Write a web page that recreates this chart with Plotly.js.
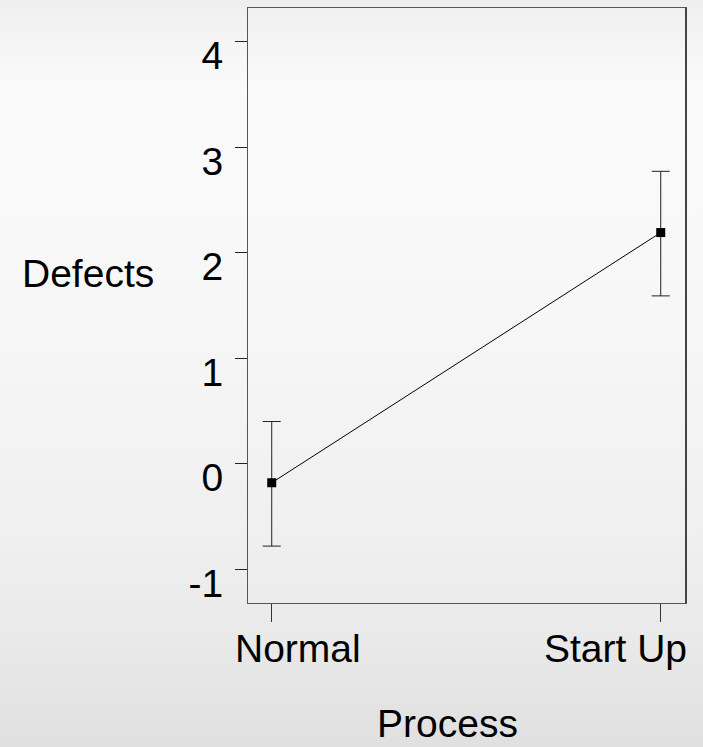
<!DOCTYPE html>
<html>
<head>
<meta charset="utf-8">
<script src="https://cdn.plot.ly/plotly-3.0.1.min.js"></script>
<style>
  html, body { margin: 0; padding: 0; }
  body {
    width: 703px; height: 747px; overflow: hidden;
    background: linear-gradient(to bottom, #eeeeee 0px, #f1f1f1 14px, #fafafa 90px, #f7f7f7 300px, #f0f0f0 520px, #e9e9e9 640px, #e0e0e0 747px);
  }
  #chart { width: 703px; height: 747px; }
</style>
</head>
<body>
<div id="chart"></div>
<script>
// ---- data ----
const categories = ["Normal", "Start Up"];
const means = [-0.18, 2.19];
const upperCI = [0.40, 2.77];
const lowerCI = [-0.78, 1.59];
const yTickVals = [-1, 0, 1, 2, 3, 4];
const yTickText = ["-1", "0", "1", "2", "3", "4"];
const xTitle = "Process";
const yTitle = "Defects";

// ---- styling / layout constants ----
const FONT = "Liberation Sans, Arial, sans-serif";
const FS = 39;
const catIdx = categories.map((c, i) => i);
const xLabelShift = [26, -45];

const trace = {
  x: catIdx,
  y: means,
  type: "scatter",
  mode: "lines+markers",
  line: { color: "#000", width: 1 },
  marker: { symbol: "square", size: 9, color: "#000" },
  error_y: {
    type: "data",
    symmetric: false,
    array: upperCI.map((u, i) => u - means[i]),
    arrayminus: lowerCI.map((l, i) => means[i] - l),
    color: "#222",
    thickness: 1,
    width: 9
  },
  hoverinfo: "skip",
  showlegend: false
};

const annotations = categories.map((c, i) => ({
  text: c, x: i, xref: "x", y: 0, yref: "paper",
  xanchor: "center", yanchor: "top", yshift: -22, xshift: xLabelShift[i],
  showarrow: false, font: { family: FONT, size: FS, color: "#000" }
}));
annotations.push({
  text: yTitle, xref: "paper", x: -0.21, xanchor: "right",
  yref: "paper", y: 0.553, yanchor: "middle",
  showarrow: false, font: { family: FONT, size: FS, color: "#000" }
});
annotations.push({
  text: xTitle, xref: "paper", x: 0.455, xanchor: "center",
  yref: "paper", y: -0.203, yanchor: "middle",
  showarrow: false, font: { family: FONT, size: FS, color: "#000" }
});

const layout = {
  width: 703, height: 747,
  margin: { l: 248, r: 17, t: 8, b: 144, pad: 0 },
  paper_bgcolor: "rgba(0,0,0,0)",
  plot_bgcolor: "rgba(0,0,0,0)",
  font: { family: FONT, size: FS, color: "#000" },
  xaxis: {
    range: [-0.061, 1.065],
    tickmode: "array", tickvals: catIdx, showticklabels: false,
    ticks: "outside", ticklen: 18, tickcolor: "#333", tickwidth: 1,
    showgrid: false, zeroline: false,
    showline: true, linecolor: "#555", linewidth: 1, mirror: true
  },
  yaxis: {
    range: [-1.319, 4.317],
    tickmode: "array", tickvals: yTickVals, ticktext: yTickText,
    ticks: "outside", ticklen: 12, tickcolor: "#222", tickwidth: 1,
    ticklabelshift: 14, ticklabelstandoff: 4,
    tickfont: { family: FONT, size: FS, color: "#000" },
    showgrid: false, zeroline: false,
    showline: true, linecolor: "#555", linewidth: 1, mirror: true
  },
  shapes: [{
    type: "line", xref: "paper", yref: "paper",
    x0: 1, x1: 1, y0: 0, y1: 1,
    line: { color: "#444", width: 2 }
  }],
  annotations: annotations
};

Plotly.newPlot("chart", [trace], layout, { staticPlot: true, displayModeBar: false });
</script>
</body>
</html>
